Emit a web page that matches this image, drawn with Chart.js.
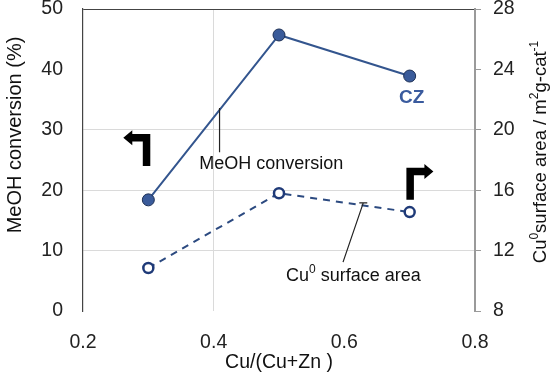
<!DOCTYPE html>
<html>
<head>
<meta charset="utf-8">
<script src="https://cdn.jsdelivr.net/npm/chart.js@4/dist/chart.umd.min.js"></script>
<style>
  html, body { margin: 0; padding: 0; background: #fff; }
  #wrap { width: 551px; height: 374px; }
</style>
</head>
<body>
<div id="wrap"><canvas id="chart" width="551" height="374"></canvas></div>
<script>
// --- DATA ---
const cuRatio = [0.3, 0.5, 0.7];
const meohConversion = [18.4, 45.7, 38.9];      // %, left axis
const cuSurfaceArea = [10.85, 15.8, 14.55];      // m2/g-cat, right axis
const xTicks = [0.2, 0.4, 0.6, 0.8];
const leftTicks = [0, 10, 20, 30, 40, 50];
const rightTicks = [8, 12, 16, 20, 24, 28];

const FONT = '"Liberation Sans", Arial, sans-serif';
const LINE_BLUE = '#33558e';
const DARK_BLUE = '#1f3a78';

// --- ANNOTATION PLUGIN (labels, leader lines, arrows, y titles) ---
const annotations = {
  id: 'annotations',
  afterDatasetsDraw(chart) {
    const { ctx, scales: { x, y } } = chart;
    const px = v => x.getPixelForValue(v);
    const py = v => y.getPixelForValue(v);
    ctx.save();

    // leader lines
    ctx.strokeStyle = '#222';
    ctx.lineWidth = 1.2;
    ctx.beginPath();
    ctx.moveTo(px(0.409), py(33.6));
    ctx.lineTo(px(0.409), py(26.3));
    ctx.moveTo(px(0.629), py(17.9));
    ctx.lineTo(px(0.598), py(8.1));
    ctx.moveTo(px(0.629) - 4, py(17.9));
    ctx.lineTo(px(0.629) + 4, py(17.9));
    ctx.stroke();

    // text labels
    ctx.fillStyle = '#111';
    ctx.textAlign = 'center';
    ctx.textBaseline = 'middle';
    ctx.font = `18px ${FONT}`;
    ctx.fillText('MeOH conversion', px(0.488), py(24.3));

    // "Cu0 surface area" with superscript
    const cx = px(0.614), cy = py(5.8);
    const partA = 'Cu', partB = '0', partC = ' surface area';
    ctx.font = `18px ${FONT}`;
    const wA = ctx.measureText(partA).width;
    const wC = ctx.measureText(partC).width;
    ctx.font = `12px ${FONT}`;
    const wB = ctx.measureText(partB).width;
    let sx = cx - (wA + wB + wC) / 2;
    ctx.textAlign = 'left';
    ctx.font = `18px ${FONT}`;
    ctx.fillText(partA, sx, cy);
    ctx.font = `12px ${FONT}`;
    ctx.fillText(partB, sx + wA, cy - 6);
    ctx.font = `18px ${FONT}`;
    ctx.fillText(partC, sx + wA + wB, cy);

    ctx.textAlign = 'center';
    ctx.fillStyle = '#3a5b9e';
    ctx.font = `bold 19px ${FONT}`;
    ctx.fillText('CZ', px(0.703), py(35.3));

    // bent arrows
    function bentArrow(ax, ay, dir) {
      // ax, ay: outer corner of the bend; dir -1 = points left, +1 = points right
      const t = 7.5, stem = 32, bar = 18, head = 9, hw = 7.5;
      ctx.beginPath();
      ctx.moveTo(ax, ay + stem);
      ctx.lineTo(ax, ay);
      ctx.lineTo(ax + dir * bar, ay);
      ctx.lineTo(ax + dir * bar, ay + t / 2 - hw);
      ctx.lineTo(ax + dir * (bar + head), ay + t / 2);
      ctx.lineTo(ax + dir * bar, ay + t / 2 + hw);
      ctx.lineTo(ax + dir * bar, ay + t);
      ctx.lineTo(ax - dir * -t, ay + t);
      ctx.lineTo(ax - dir * -t, ay + stem);
      ctx.closePath();
      ctx.fill();
    }
    ctx.fillStyle = '#000';
    bentArrow(px(0.303), py(29.3), -1);
    bentArrow(px(0.695), py(23.7), 1);

    // left y title
    ctx.fillStyle = '#111';
    ctx.font = `20px ${FONT}`;
    ctx.textAlign = 'center';
    ctx.translate(15, 135);
    ctx.rotate(-Math.PI / 2);
    ctx.fillText('MeOH conversion (%)', 0, 0);
    ctx.restore();

    // right y title with superscripts
    ctx.save();
    ctx.fillStyle = '#111';
    ctx.textBaseline = 'middle';
    ctx.textAlign = 'left';
    ctx.translate(541, 152);
    ctx.rotate(-Math.PI / 2);
    const parts = [
      ['Cu', false], ['0', true], ['surface area / m', false],
      ['2', true], ['g-cat', false], ['-1', true]
    ];
    const big = `18.5px ${FONT}`, small = `12px ${FONT}`;
    let total = 0;
    parts.forEach(([s, sup]) => { ctx.font = sup ? small : big; total += ctx.measureText(s).width; });
    let tx = -total / 2;
    parts.forEach(([s, sup]) => {
      ctx.font = sup ? small : big;
      ctx.fillText(s, tx, sup ? -6.5 : 0);
      tx += ctx.measureText(s).width;
    });
    ctx.restore();
  }
};

const ctx = document.getElementById('chart').getContext('2d');
new Chart(ctx, {
  type: 'line',
  data: {
    datasets: [
      {
        label: 'MeOH conversion',
        data: cuRatio.map((v, i) => ({ x: v, y: meohConversion[i] })),
        yAxisID: 'y',
        borderColor: LINE_BLUE,
        borderWidth: 2,
        backgroundColor: '#3a5b9a',
        pointBackgroundColor: '#3a5b9a',
        pointBorderColor: '#1c2f55',
        pointBorderWidth: 1,
        pointRadius: 6,
        tension: 0
      },
      {
        label: 'Cu0 surface area',
        data: cuRatio.map((v, i) => ({ x: v, y: cuSurfaceArea[i] })),
        yAxisID: 'y1',
        borderColor: '#2c4a80',
        borderWidth: 2,
        borderDash: [7, 6],
        pointBackgroundColor: '#fff',
        pointBorderColor: DARK_BLUE,
        pointBorderWidth: 2.5,
        pointRadius: 5,
        tension: 0
      }
    ]
  },
  options: {
    responsive: false,
    animation: false,
    layout: { padding: { top: 9, left: 0, right: 0, bottom: 0 } },
    plugins: { legend: { display: false }, tooltip: { enabled: false } },
    scales: {
      x: {
        type: 'linear',
        min: 0.2, max: 0.8,
        afterBuildTicks: s => { s.ticks = xTicks.map(v => ({ value: v })); },
        afterFit: s => { s.height = 63; s.paddingLeft = 0; s.paddingRight = 0; },
        ticks: {
          font: { family: FONT, size: 19.5 },
          color: '#222',
          padding: 20,
          maxRotation: 0,
          callback: v => v.toFixed(1)
        },
        grid: {
          drawTicks: false,
          color: c => (c.tick && Math.abs(c.tick.value - 0.4) < 1e-6) ? '#dadada' : 'rgba(0,0,0,0)'
        },
        border: { display: false },
        title: {
          display: true,
          text: 'Cu/(Cu+Zn )',
          font: { family: FONT, size: 19.5 },
          color: '#111',
          padding: { top: 0, bottom: 0 }
        }
      },
      y: {
        position: 'left',
        min: 0, max: 50,
        afterBuildTicks: s => { s.ticks = leftTicks.map(v => ({ value: v })); },
        afterFit: s => { s.width = 83; s.paddingTop = 0; s.paddingBottom = 0; },
        ticks: {
          font: { family: FONT, size: 19.5 },
          color: '#222',
          padding: 20
        },
        grid: {
          drawTicks: false,
          color: c => {
            const v = c.tick ? c.tick.value : null;
            if (v === 50) return '#444';
            if (v === 10 || v === 20 || v === 30) return '#dadada';
            return 'rgba(0,0,0,0)';
          }
        },
        border: { display: true, color: '#444', width: 1.2 }
      },
      y1: {
        position: 'right',
        min: 8, max: 28,
        afterBuildTicks: s => { s.ticks = rightTicks.map(v => ({ value: v })); },
        afterFit: s => { s.width = 76; s.paddingTop = 0; s.paddingBottom = 0; },
        ticks: {
          font: { family: FONT, size: 19.5 },
          color: '#222',
          padding: 12
        },
        grid: {
          drawOnChartArea: false,
          drawTicks: true,
          tickLength: 6,
          tickColor: '#9a9a9a'
        },
        border: { display: true, color: '#9a9a9a', width: 2 }
      }
    }
  },
  plugins: [annotations]
});
</script>
</body>
</html>
